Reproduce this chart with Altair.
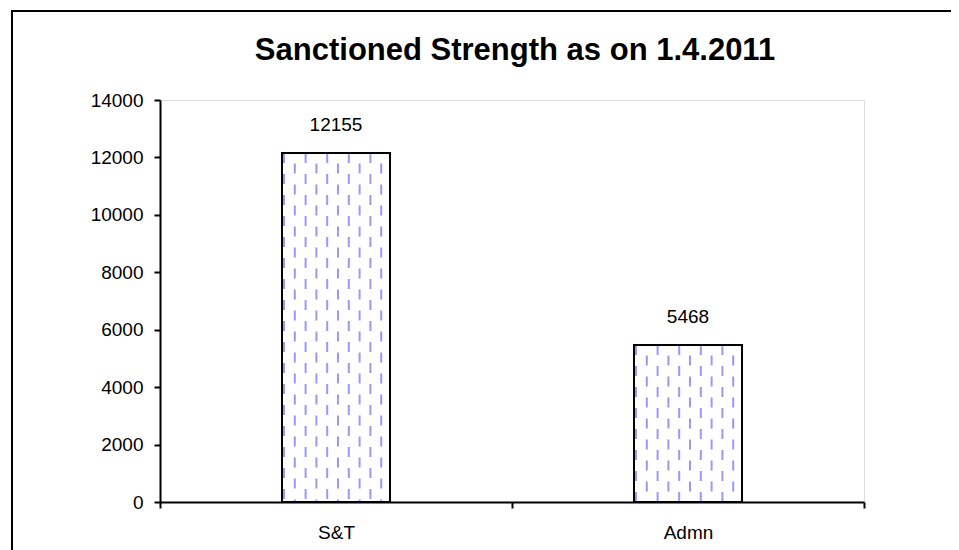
import altair as alt
import pandas as pd

categories = ["S&T", "Admn"]
values = [12155, 5468]
y_ticks = [0, 2000, 4000, 6000, 8000, 10000, 12000, 14000]
title_text = "Sanctioned Strength as on 1.4.2011"

df = pd.DataFrame({"cat": categories, "val": values})

W, H = 704, 402
FONT = "Liberation Sans"
LFS = 19

x_enc = alt.X("cat:N", sort=categories,
              scale=alt.Scale(paddingInner=0, paddingOuter=0),
              axis=alt.Axis(title=None, labelAngle=0, tickBand="extent",
                            labelFontSize=LFS, labelColor="black", labelFont=FONT,
                            domainColor="black", domainWidth=2, tickColor="black",
                            tickWidth=2, tickSize=6, labelPadding=15))
y_enc = alt.Y("val:Q",
              scale=alt.Scale(domain=[0, 14000], nice=False),
              axis=alt.Axis(title=None, values=y_ticks, grid=False, format="d",
                            labelFontSize=LFS, labelColor="black", labelFont=FONT,
                            domainColor="black", domainWidth=2, tickColor="black",
                            tickWidth=2, tickSize=6, labelPadding=11))

base = alt.Chart(df)

bar_fill = base.mark_bar(size=108, color="white", stroke=None).encode(x=x_enc, y=y_enc)

pattern_layers = []
for k in range(10):
    off = -52 + k * 10.8
    pattern_layers.append(
        base.mark_rule(xOffset=off, color="#9898ff", strokeWidth=2,
                       strokeDash=[10, 11], strokeDashOffset=(0 if k % 2 == 0 else 10.5))
        .encode(x=alt.X("cat:N", sort=categories), y="val:Q", y2=alt.datum(0))
    )

bar_outline = base.mark_bar(size=108, fill=None, fillOpacity=0, stroke="black",
                            strokeWidth=2).encode(x=alt.X("cat:N", sort=categories), y="val:Q")

labels = base.mark_text(baseline="alphabetic", dy=-22, fontSize=LFS, font=FONT,
                        color="black").encode(x=alt.X("cat:N", sort=categories),
                                              y="val:Q", text="val:Q")

frame = alt.Chart(pd.DataFrame({"d": [0]})).mark_rect(
    fill=None, fillOpacity=0, stroke="black", strokeWidth=2, clip=False
).encode(x=alt.value(-148), x2=alt.value(820), y=alt.value(-89), y2=alt.value(480))

chart = alt.layer(bar_fill, *pattern_layers, bar_outline, labels, frame).properties(
    width=W, height=H,
    title=alt.TitleParams(title_text, fontSize=31, fontWeight="bold", font=FONT,
                          anchor="middle", color="black", offset=0,
                          baseline="alphabetic", dy=81, dx=3),
    autosize=alt.AutoSizeParams(type="none"),
    padding={"left": 152, "top": 92, "right": 87, "bottom": 48},
).configure_view(stroke="#CC99FF", strokeWidth=2).configure(background="white")

chart.save("out.html", embed_options={"renderer": "svg", "actions": False})
